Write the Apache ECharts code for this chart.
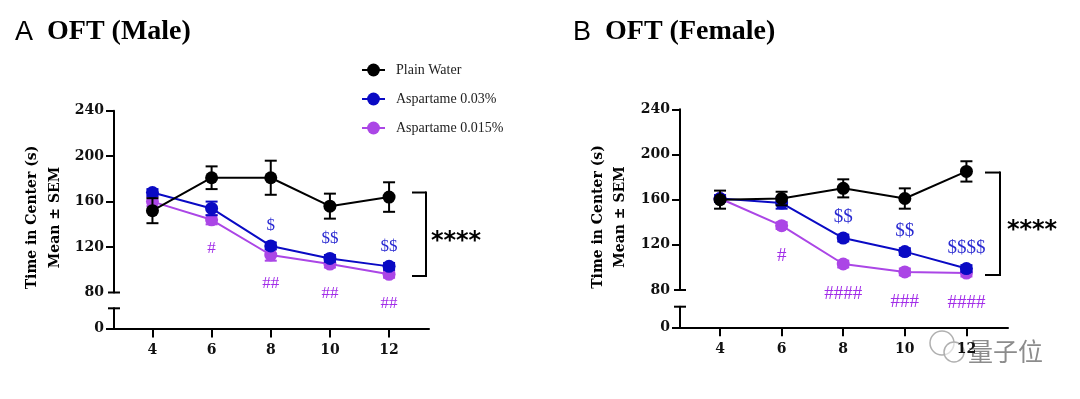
<!DOCTYPE html>
<html>
<head>
<meta charset="utf-8">
<title>OFT</title>
<script src="https://cdn.jsdelivr.net/npm/echarts@6/dist/echarts.min.js"></script>
<style>
  html, body { margin: 0; padding: 0; background: #fff; }
  #main { width: 1080px; height: 399px; }
</style>
</head>
<body>
<div id="main"></div>
<script>
// weeks on x axis
const weeks = [4, 6, 8, 10, 12]
const upperTicks = [80, 120, 160, 200, 240]
const seriesNames = ['Plain Water', 'Aspartame 0.03%', 'Aspartame 0.015%']

// A: male
const maleWater = [152, 181, 181, 156, 164]
const maleWaterErr = [11, 10, 15, 11, 13]
const maleAsp03 = [168, 154, 121, 110, 103]
const maleAsp03Err = [3, 6, 3, 3, 3]
const maleAsp015 = [160, 144, 113, 105, 96]
const maleAsp015Err = [4, 4, 5, 3, 3]
const maleDollar = ['', '', '$', '$$', '$$']
const maleHash = ['', '#', '##', '##', '##']
const maleBracket = [168, 94.5]

// B: female
const femaleWater = [160, 161, 170, 161, 185]
const femaleWaterErr = [8, 6, 8, 9, 9]
const femaleAsp03 = [161, 157, 126, 114, 99]
const femaleAsp03Err = [3, 5, 3, 3, 3]
const femaleAsp015 = [161, 137, 103, 96, 95]
const femaleAsp015Err = [3, 3, 3, 3, 3]
const femaleDollar = ['', '', '$$', '$$', '$$$$']
const femaleHash = ['', '#', '####', '###', '####']
const femaleBracket = [184, 93.3]

const BLACK = '#000000'
const BLUE = '#0a0ac4'
const PURPLE = '#ab46e6'
const BLUE_TXT = '#2a2ad2'
const PURPLE_TXT = '#a22ee8'
const SERIF_B = 'bold 14px "DejaVu Serif"'
const tickFont = { fontFamily: 'DejaVu Serif', fontWeight: 'bold', fontSize: 14, color: '#111' }

// panel layout (px)
const panels = [
  { left: 114, width: 315, top: 110.7, upperH: 181.8, lowTop: 308.3, lowH: 20.2, annSize: 17 },
  { left: 680, width: 328, top: 109.3, upperH: 180.7, lowTop: 306.7, lowH: 20.6, annSize: 19 }
]

const chart = echarts.init(document.getElementById('main'))

function pairs (vals) {
  return weeks.map((w, i) => [w, vals[i]])
}

function errorBars (vals, errs, color, axis, z) {
  return {
    type: 'custom',
    xAxisIndex: axis,
    yAxisIndex: axis,
    z: z,
    silent: true,
    data: weeks.map((w, i) => [w, vals[i] - errs[i], vals[i] + errs[i]]),
    renderItem (params, api) {
      const lo = api.coord([api.value(0), api.value(1)])
      const hi = api.coord([api.value(0), api.value(2)])
      const st = { stroke: color, lineWidth: 2 }
      return {
        type: 'group',
        children: [
          { type: 'line', shape: { x1: lo[0], y1: lo[1], x2: hi[0], y2: hi[1] }, style: st },
          { type: 'line', shape: { x1: hi[0] - 6, y1: hi[1], x2: hi[0] + 6, y2: hi[1] }, style: st },
          { type: 'line', shape: { x1: lo[0] - 6, y1: lo[1], x2: lo[0] + 6, y2: lo[1] }, style: st }
        ]
      }
    }
  }
}

function lineSeries (name, vals, color, axis, z, label) {
  return {
    type: 'line',
    name: name,
    xAxisIndex: axis,
    yAxisIndex: axis,
    z: z,
    data: pairs(vals),
    symbol: 'circle',
    symbolSize: 13,
    color: color,
    lineStyle: { width: 2, color: color },
    itemStyle: { color: color },
    emphasis: { disabled: true },
    label: label || { show: false }
  }
}

function annLabel (texts, pos, dist, color, size) {
  return {
    show: true,
    position: pos,
    distance: dist,
    formatter: p => texts[p.dataIndex],
    color: color,
    fontFamily: 'Liberation Serif',
    fontSize: size
  }
}

const grids = []
const xAxes = []
const yAxes = []
panels.forEach(p => {
  grids.push({ left: p.left, width: p.width, top: p.top, height: p.upperH })
  grids.push({ left: p.left, width: p.width, top: p.lowTop, height: p.lowH })
})
for (let g = 0; g < 4; g++) {
  const lower = g % 2 === 1
  xAxes.push({
    type: 'value',
    gridIndex: g,
    min: 2.7,
    max: 13.35,
    show: lower,
    splitLine: { show: false },
    axisLine: { onZero: false, lineStyle: { color: '#000', width: 2 } },
    axisTick: { length: 9, lineStyle: { color: '#000', width: 2 }, customValues: weeks },
    axisLabel: Object.assign({ margin: 15, customValues: weeks }, tickFont)
  })
  yAxes.push({
    type: 'value',
    gridIndex: g,
    min: lower ? 0 : 80,
    max: lower ? 20 : 240,
    interval: lower ? 20 : 40,
    splitLine: { show: false },
    axisLine: { show: true, lineStyle: { color: '#000', width: 2 } },
    axisTick: {
      show: true,
      length: 8,
      lineStyle: { color: '#000', width: 2 },
      customValues: lower ? [0] : upperTicks.slice(1)
    },
    axisLabel: Object.assign({ margin: 10, customValues: lower ? [0] : upperTicks }, tickFont)
  })
}

const series = [
  errorBars(maleAsp015, maleAsp015Err, PURPLE, 0, 2),
  lineSeries(seriesNames[2], maleAsp015, PURPLE, 0, 2,
    annLabel(maleHash, 'bottom', 14, PURPLE_TXT, panels[0].annSize)),
  errorBars(maleAsp03, maleAsp03Err, BLUE, 0, 3),
  lineSeries(seriesNames[1], maleAsp03, BLUE, 0, 3,
    annLabel(maleDollar, 'top', 5, BLUE_TXT, panels[0].annSize)),
  errorBars(maleWater, maleWaterErr, BLACK, 0, 4),
  lineSeries(seriesNames[0], maleWater, BLACK, 0, 4),

  errorBars(femaleAsp015, femaleAsp015Err, PURPLE, 2, 2),
  lineSeries(seriesNames[2], femaleAsp015, PURPLE, 2, 2,
    annLabel(femaleHash, 'bottom', 14, PURPLE_TXT, panels[1].annSize)),
  errorBars(femaleAsp03, femaleAsp03Err, BLUE, 2, 3),
  lineSeries(seriesNames[1], femaleAsp03, BLUE, 2, 3,
    annLabel(femaleDollar, 'top', 5, BLUE_TXT, panels[1].annSize)),
  errorBars(femaleWater, femaleWaterErr, BLACK, 2, 4),
  lineSeries(seriesNames[0], femaleWater, BLACK, 2, 4)
]

chart.setOption({
  animation: false,
  backgroundColor: '#fff',
  grid: grids,
  xAxis: xAxes,
  yAxis: yAxes,
  legend: {
    data: seriesNames,
    orient: 'vertical',
    left: 361,
    top: 63,
    padding: 0,
    itemWidth: 23,
    itemHeight: 16,
    itemGap: 15,
    selectedMode: false,
    textStyle: { fontFamily: 'Liberation Serif', fontSize: 14, color: '#222', padding: [0, 0, 0, 6] }
  },
  series: series
})

// decorations: titles, axis names, breaks, brackets
const gfx = []
function txt (x, y, text, font, opts) {
  gfx.push(Object.assign({
    type: 'text', x: x, y: y,
    style: { text: text, font: font, fill: '#000', textAlign: 'left', textVerticalAlign: 'middle' }
  }, opts || {}))
}
function seg (x1, y1, x2, y2) {
  gfx.push({ type: 'line', shape: { x1, y1, x2, y2 }, style: { stroke: '#000', lineWidth: 2 } })
}

txt(15, 33, 'A', '27px "Liberation Sans"')
txt(47, 32, 'OFT (Male)', 'bold 28px "Liberation Serif"')
txt(573, 33, 'B', '27px "Liberation Sans"')
txt(605, 32, 'OFT (Female)', 'bold 28px "Liberation Serif"')

const yNames = [[32, 55, 217.5], [598, 620, 217]]
yNames.forEach(n => {
  txt(n[0], n[2], 'Time in Center (s)', SERIF_B, { rotation: Math.PI / 2 })
  txt(n[1], n[2], 'Mean ± SEM', SERIF_B, { rotation: Math.PI / 2 })
})
gfx.forEach(g => { if (g.rotation) g.style.textAlign = 'center' })

panels.forEach(p => {
  const yb = p.top + p.upperH
  seg(p.left - 6, yb, p.left + 6, yb)
  seg(p.left - 6, p.lowTop, p.left + 6, p.lowTop)
})

const brackets = [
  { vals: maleBracket, grid: 0, x: 426, arm: 14, star: 456 },
  { vals: femaleBracket, grid: 2, x: 1000, arm: 15, star: 1032 }
]
brackets.forEach(b => {
  const y1 = chart.convertToPixel({ yAxisIndex: b.grid }, b.vals[0])
  const y2 = chart.convertToPixel({ yAxisIndex: b.grid }, b.vals[1])
  seg(b.x - b.arm, y1, b.x, y1)
  seg(b.x, y1 - 1, b.x, y2 + 1)
  seg(b.x - b.arm, y2, b.x, y2)
  txt(b.star, (y1 + y2) / 2 + 7, '****', '900 24px "DejaVu Sans"')
  gfx[gfx.length - 1].style.textAlign = 'center'
})

// watermark
gfx.push({ type: 'circle', shape: { cx: 942, cy: 343, r: 12 }, style: { fill: 'rgba(255,255,255,0.6)', stroke: '#b0b0b0', lineWidth: 1.5 } })
gfx.push({ type: 'circle', shape: { cx: 954, cy: 352, r: 10 }, style: { fill: 'rgba(255,255,255,0.6)', stroke: '#b0b0b0', lineWidth: 1.5 } })
txt(968, 351, '量子位', '25px "Noto Sans CJK SC"')
gfx[gfx.length - 1].style.fill = '#8c8c8c'

chart.setOption({ graphic: { elements: gfx } })
</script>
</body>
</html>
